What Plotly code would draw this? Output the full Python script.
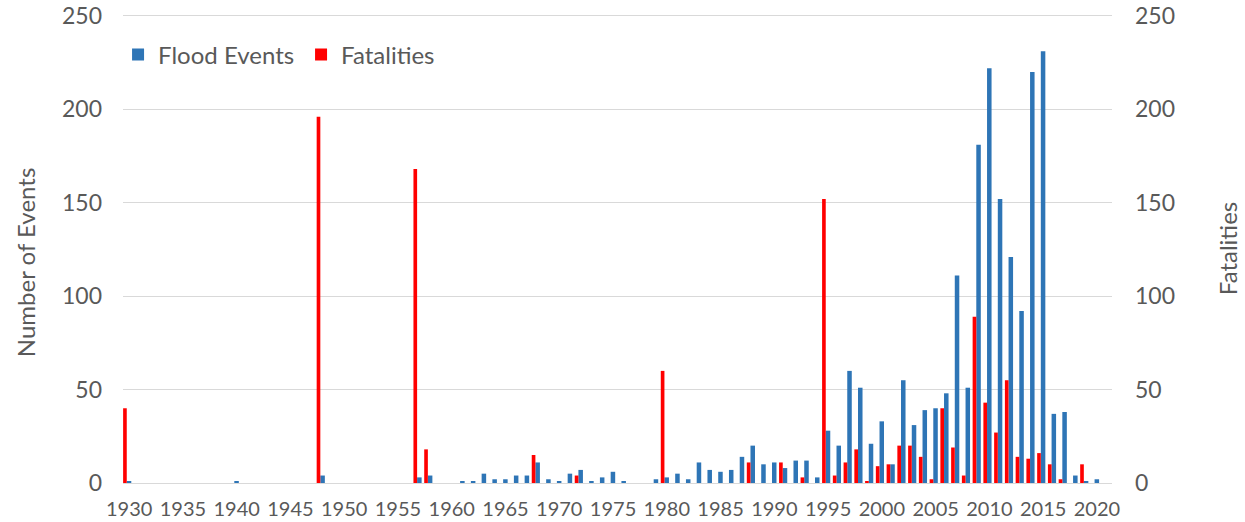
import plotly.graph_objects as go

years = list(range(1930, 2021))

flood_events = [
    1, 0, 0, 0, 0, 0, 0, 0, 0, 0,        # 1930s
    1, 0, 0, 0, 0, 0, 0, 0, 4, 0,        # 1940s
    0, 0, 0, 0, 0, 0, 0, 3, 4, 0,        # 1950s
    0, 1, 1, 5, 2, 2, 4, 4, 11, 2,       # 1960s
    1, 5, 7, 1, 3, 6, 1, 0, 0, 2,        # 1970s
    3, 5, 2, 11, 7, 6, 7, 14, 20, 10,    # 1980s
    11, 8, 12, 12, 3, 28, 20, 60, 51, 21,  # 1990s
    33, 10, 55, 31, 39, 40, 48, 111, 51, 181,  # 2000s
    222, 152, 121, 92, 220, 231, 37, 38, 4, 1,  # 2010s
    2,                                   # 2020
]

fatalities = [
    40, 0, 0, 0, 0, 0, 0, 0, 0, 0,
    0, 0, 0, 0, 0, 0, 0, 0, 196, 0,
    0, 0, 0, 0, 0, 0, 0, 168, 18, 0,
    0, 0, 0, 0, 0, 0, 0, 0, 15, 0,
    0, 0, 4, 0, 0, 0, 0, 0, 0, 0,
    60, 0, 0, 0, 0, 0, 0, 0, 11, 0,
    0, 11, 0, 3, 0, 152, 4, 11, 18, 1,
    9, 10, 20, 20, 14, 2, 40, 19, 4, 89,
    43, 27, 55, 14, 13, 16, 10, 2, 0, 10,
    0,
]

y_ticks = [0, 50, 100, 150, 200, 250]

BLUE = "#2E75B6"
RED = "#FF0000"
TXT = "#595959"
GRID = "#D9D9D9"
FONT = "Lato"

fig = go.Figure()
fig.add_trace(go.Bar(
    x=years, y=flood_events, name="Flood Events",
    marker=dict(color=BLUE, line=dict(width=0)),
    width=0.42, offset=-0.22, yaxis="y",
))
fig.add_trace(go.Bar(
    x=years, y=fatalities, name="Fatalities",
    marker=dict(color=RED, line=dict(width=0)),
    width=0.34, offset=-0.56, yaxis="y2",
))

fig.update_layout(
    width=1245, height=522,
    margin=dict(l=123, r=133, t=14, b=39, autoexpand=False),
    paper_bgcolor="white", plot_bgcolor="white",
    font=dict(family=FONT, color=TXT),
    barmode="overlay",
    showlegend=True,
    legend=dict(
        orientation="h", x=-0.005, y=0.913, xanchor="left", yanchor="middle",
        font=dict(size=24, color=TXT, family=FONT),
        bgcolor="rgba(0,0,0,0)", entrywidth=138,
    ),
    xaxis=dict(
        range=[1929.43, 2021.4], tickmode="linear", tick0=1930, dtick=5,
        showgrid=False, zeroline=False, showline=False, ticks="",
        ticklabelstandoff=12,
        tickfont=dict(size=20, color=TXT, family=FONT),
    ),
    yaxis=dict(
        range=[0, 251], tickvals=y_ticks, showgrid=True, gridcolor=GRID,
        gridwidth=1, zeroline=True, zerolinecolor=GRID, zerolinewidth=1,
        showline=False, ticks="", ticklabelstandoff=20,
        ticklabeloverflow="allow",
        tickfont=dict(size=23, color=TXT, family=FONT),
    ),
    yaxis2=dict(
        range=[0, 251], tickvals=y_ticks, overlaying="y", side="right",
        showgrid=False, zeroline=False, showline=False, ticks="",
        ticklabelstandoff=22, ticklabeloverflow="allow",
        tickfont=dict(size=23, color=TXT, family=FONT),
        title=dict(text="Fatalities", font=dict(size=24, color=TXT, family=FONT), standoff=46),
    ),
    annotations=[dict(
        text="Number of Events", textangle=-90,
        xref="paper", yref="paper", x=-0.099, y=0.469,
        xanchor="center", yanchor="middle", showarrow=False,
        font=dict(size=24, color=TXT, family=FONT),
    )],
)

fig.write_html(
    "out.html",
    config={"displayModeBar": False},
    post_script="document.body.style.margin='0';document.body.style.overflow='hidden';",
)
